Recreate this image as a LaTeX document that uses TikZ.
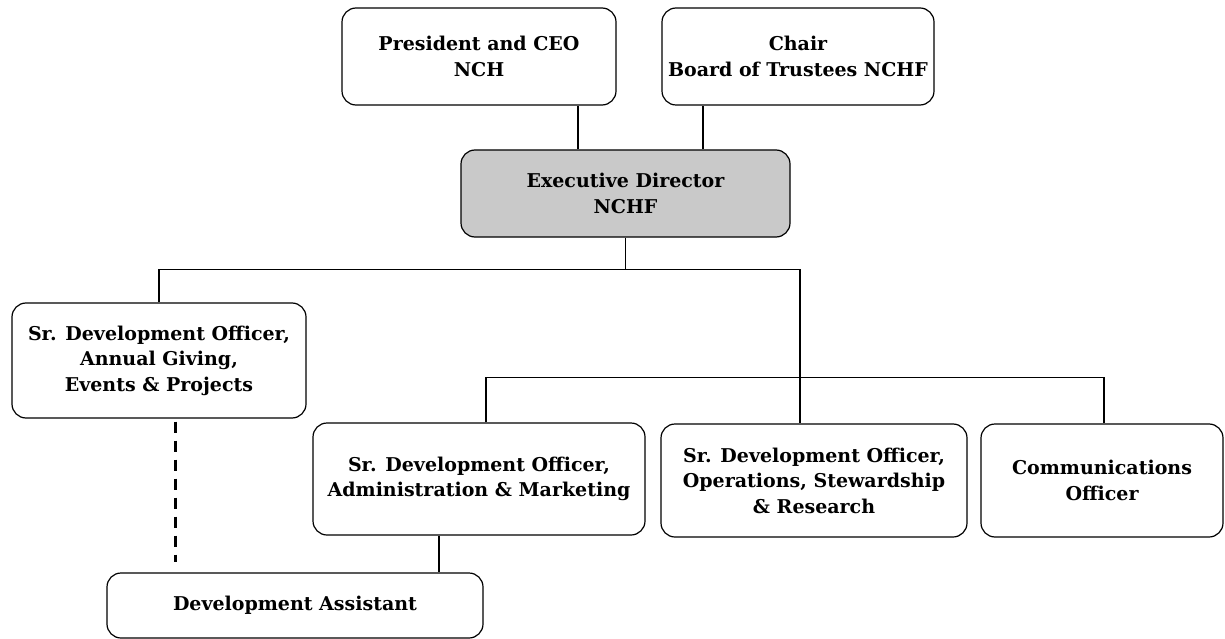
\documentclass[tikz,border=0pt]{standalone}
\usepackage{fontspec}
\setmainfont{DejaVu Serif}
\usetikzlibrary{backgrounds}

\begin{document}
\begin{tikzpicture}[x=1pt,y=-1pt,
    post/.style={draw,rounded corners=14pt,line width=1.2pt,align=center,inner sep=0pt,
                 font=\fontsize{19}{25.5}\selectfont\bfseries},
    link/.style={line width=1.2pt},
    dotted link/.style={line width=3pt,dash pattern=on 11pt off 8pt}]
            \useasboundingbox (0,0) rectangle (1225,639);

            % Top row
            \node[post,minimum width=274pt,minimum height=97pt] (ceo)   at (479,56.5) {President and CEO\\NCH};
            \node[post,minimum width=272pt,minimum height=97pt] (chair) at (798,56.5) {Chair\\Board of Trustees NCHF};
            \node[post,fill=black!21,minimum width=329pt,minimum height=87pt] (exec) at (625.5,193.5) {Executive Director\\NCHF};

            % Officers
            \node[post,minimum width=294pt,minimum height=115pt] (annual) at (159,360.5)   {Sr. Development Officer,\\Annual Giving,\\Events \& Projects};
            \node[post,minimum width=332pt,minimum height=112pt] (admin)  at (479,479)     {Sr. Development Officer,\\Administration \& Marketing};
            \node[post,minimum width=306pt,minimum height=113pt] (ops)    at (814,480.5)   {Sr. Development Officer,\\Operations, Stewardship\\\& Research};
            \node[post,minimum width=242pt,minimum height=113pt] (comm)   at (1102,480.5)  {Communications\\Officer};
            \node[post,minimum width=376pt,minimum height=65pt]  (assist) at (295,605.5)   {Development Assistant};

            % Lines
            \draw[link] ([xshift=-47.5pt]exec.north) -- ([xshift=-47.5pt]exec.north |- ceo.south);
            \draw[link] ([xshift=77.5pt]exec.north) -- ([xshift=77.5pt]exec.north |- chair.south);
            \draw[link] (exec.south) -- ++(0,32) coordinate (split);
            \draw[link] (annual.north) |- (split) -| ([xshift=-14pt]ops.north);
            \draw[link] ([xshift=7pt]admin.north) |- ([xshift=2pt,yshift=46pt]comm.north) -- ([xshift=2pt]comm.north);
            \draw[link] ([xshift=-40pt]admin.south) -- ([xshift=-40pt]admin.south |- assist.north);
            \draw[dotted link,shorten <=3pt,shorten >=10pt] ([xshift=16pt]annual.south) -- ([xshift=16pt]annual.south |- assist.north);
    \end{tikzpicture}
\end{document}
